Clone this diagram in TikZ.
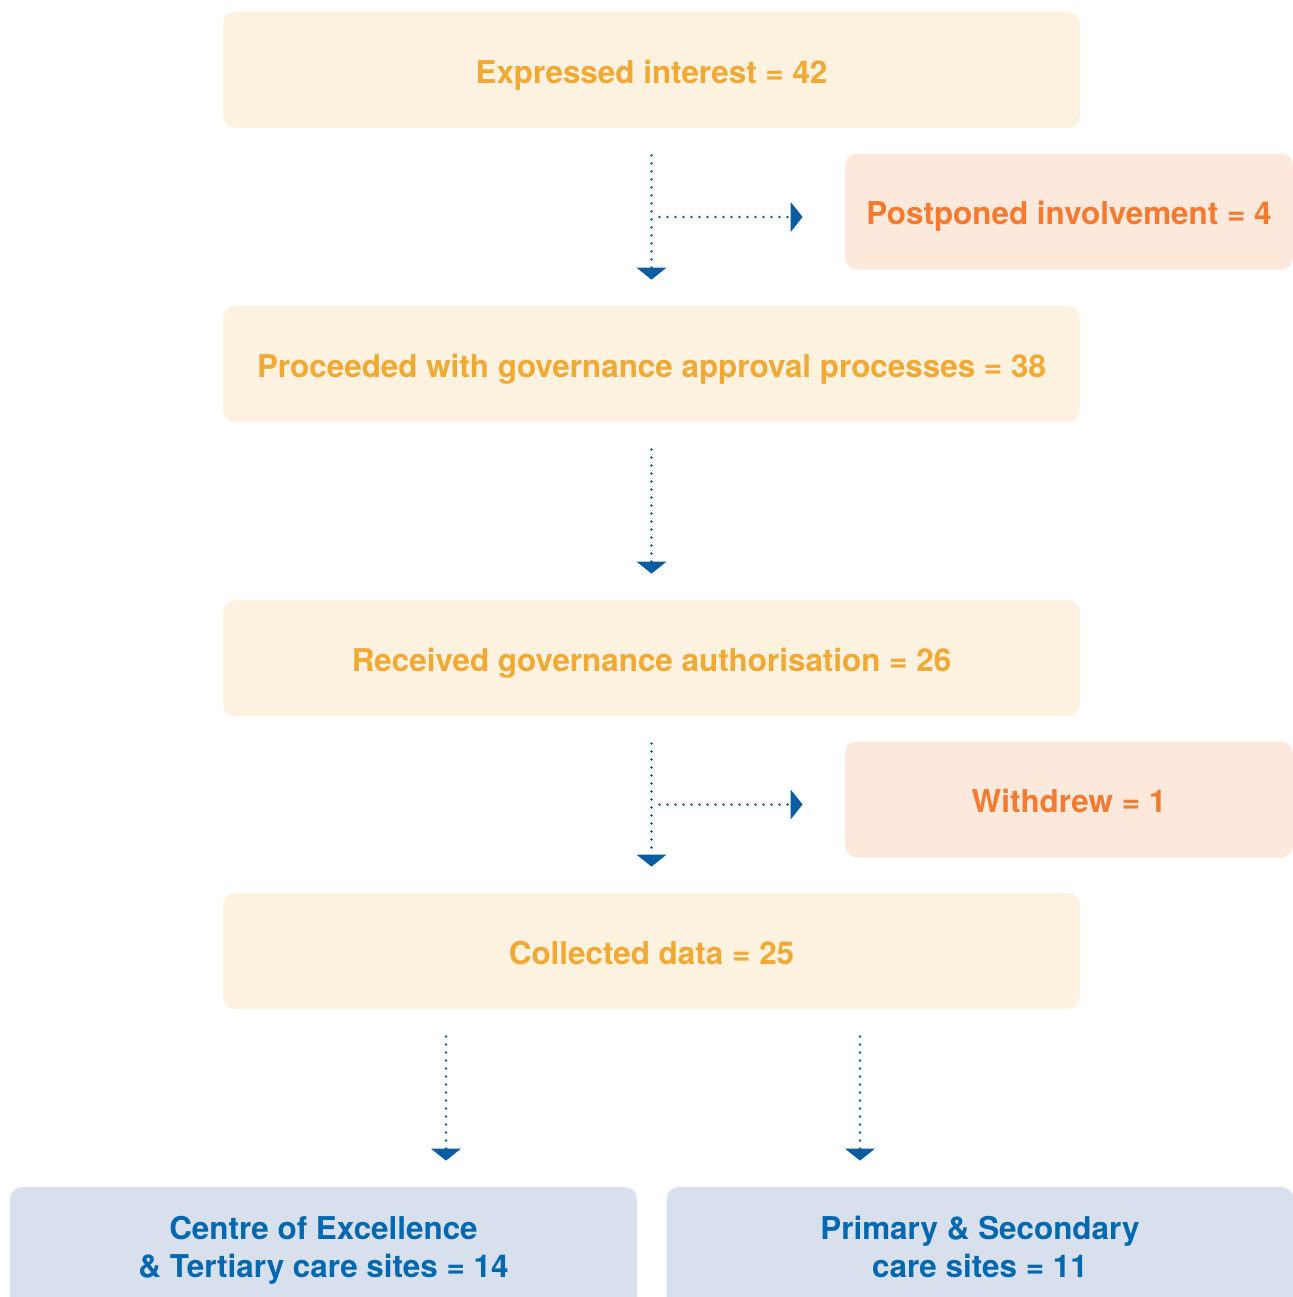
\documentclass[tikz,border=0pt]{standalone}
\usepackage{fontspec}
\setmainfont{TeX Gyre Heros}
\usetikzlibrary{arrows.meta,calc}
\definecolor{stagefill}{HTML}{FDF1DF}
\definecolor{stagetext}{HTML}{F2A933}
\definecolor{sidefill}{HTML}{FDE9DC}
\definecolor{sidetext}{HTML}{F47A30}
\definecolor{sitefill}{HTML}{D8E0EE}
\definecolor{sitetext}{HTML}{0068B0}
\definecolor{flowblue}{HTML}{0A5CA0}
\begin{document}
\begin{tikzpicture}[x=0.5pt,y=-0.5pt,
  box/.style={rounded corners=6pt,inner sep=0pt,align=center,
    font=\fontsize{15.7}{19}\selectfont\bfseries,minimum height=58pt},
  oneline/.style={text height=13.3pt,text depth=0pt},
  stage/.style={box,oneline,fill=stagefill,text=stagetext,minimum width=428.5pt},
  side/.style={box,oneline,fill=sidefill,text=sidetext,minimum width=224pt},
  site/.style={box,fill=sitefill,text=sitetext,minimum width=313.5pt,minimum height=64pt},
  flow/.style={draw=flowblue,line width=1.4pt,line cap=round,
    dash pattern=on 0pt off 4pt,
    -{Triangle[width=15pt,length=6pt,fill=flowblue,line width=0pt]}},
  gapped/.style={shorten <=13.5pt,shorten >=13pt}]
\clip (0,0) rectangle (1293,1297);
\node[stage] at (651.5,70) (interest) {Expressed interest = 42};
\node[side] at (1069,211.5) (postponed) {Postponed involvement = 4};
\node[stage] at (651.5,364) (approval) {Proceeded with governance approval processes = 38};
\node[stage] at (651.5,658) (authorised) {Received governance authorisation = 26};
\node[side] at (1069,799.5) (withdrew) {Withdrew = 1};
\node[stage] at (651.5,951) (collected) {Collected data = 25};
\node[site] at (323.5,1251) (centre) {\strut Centre of Excellence\\\strut\& Tertiary care sites = 14};
\node[site] at (980,1251) (primary) {\strut Primary \& Secondary\\\strut care sites = 11};
% main flow
\draw[flow,gapped] (interest) -- (approval);
\draw[flow,gapped] (approval) -- (authorised);
\draw[flow,gapped] (authorised) -- (collected);
% drop-outs
\coordinate (split1) at ($(interest.south)!0.5!(approval.north)$);
\coordinate (split2) at ($(authorised.south)!0.5!(collected.north)$);
\draw[flow,shorten <=4pt,shorten >=21pt] (split1) -- (split1 -| postponed.west);
\draw[flow,shorten <=4pt,shorten >=21pt] (split2) -- (split2 -| withdrew.west);
% site split
\draw[flow,gapped] ([xshift=-102.75pt]collected.south) -- ([xshift=-102.75pt]collected.south |- centre.north);
\draw[flow,gapped] ([xshift=104.25pt]collected.south) -- ([xshift=104.25pt]collected.south |- primary.north);
\end{tikzpicture}
\end{document}
